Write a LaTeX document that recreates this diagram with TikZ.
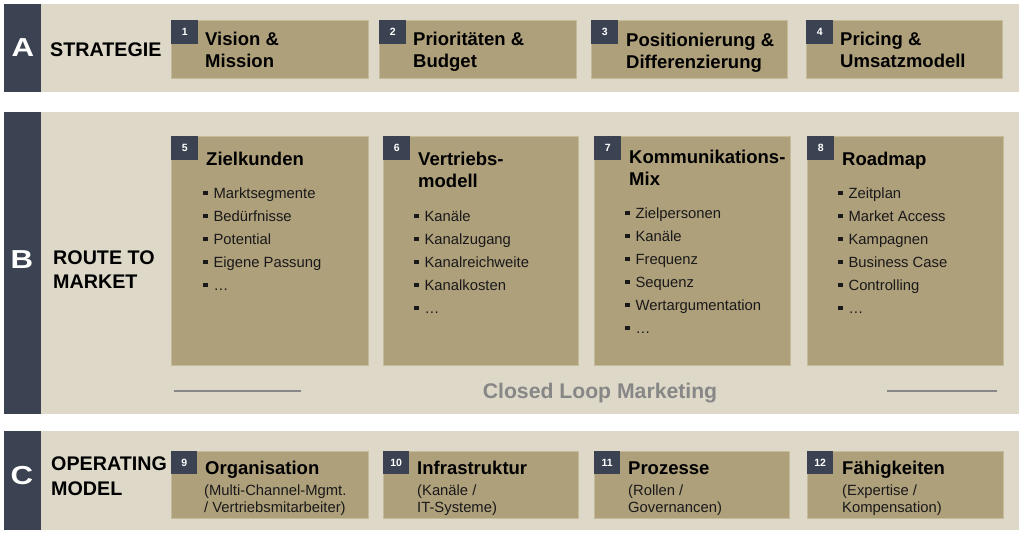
\documentclass[tikz,border=0pt]{standalone}
\usepackage{fontspec}
\usepackage{graphicx}
\setmainfont{Liberation Sans}
\definecolor{bandc}{HTML}{DDD8C7}
\definecolor{darkc}{HTML}{3B4251}
\definecolor{tanc}{HTML}{AFA07C}
\definecolor{tanline}{HTML}{C5BA9A}
\definecolor{loopc}{HTML}{878787}
\newcommand{\bul}[1]{\rule[0.2em]{0.3em}{0.3em}\hspace{0.4em}#1}
\begin{document}
\begin{tikzpicture}[x=1pt,y=-1pt,
  bandbg/.style={fill=bandc,draw=none},
  darkbar/.style={fill=darkc,draw=none},
  tanbox/.style={fill=tanc,draw=tanline,line width=0.8pt,inner sep=0pt,anchor=north west},
  numbox/.style={fill=darkc,draw=none,text=white,font=\bfseries\fontsize{10.5}{12}\selectfont,inner sep=0pt,minimum width=27,minimum height=24,anchor=north west},
  bigletter/.style={text=white,font=\bfseries\fontsize{26}{26}\selectfont,inner sep=0pt},
  rowlabel/.style={font=\bfseries\fontsize{19.7}{22}\selectfont,inner sep=0pt,anchor=base west},
  titletext/.style={font=\bfseries\fontsize{18.5}{22}\selectfont,inner sep=0pt,anchor=base west},
  itemtext/.style={font=\fontsize{14.8}{18}\selectfont,inner sep=0pt,anchor=base west,text=black!90},
  looptext/.style={font=\bfseries\fontsize{21.2}{24}\selectfont,text=loopc,inner sep=0pt,anchor=base},
  loopline/.style={draw=loopc,line width=1.6pt}
]
\useasboundingbox (0,0) rectangle (1024,536);
\fill[white] (0,0) rectangle (1024,536);
% bands
\fill[bandbg] (4,4) rectangle (1019,92);
\fill[darkbar] (4,4) rectangle (41,92);
\fill[bandbg] (4,112) rectangle (1019,414);
\fill[darkbar] (4,112) rectangle (41,414);
\fill[bandbg] (4,431) rectangle (1019,530);
\fill[darkbar] (4,431) rectangle (41,530);
% letters and labels
\node[bigletter] (LA) at (23,48) {\scalebox{1.2}[1]{A}};
\node[bigletter] (LB) at (22,260) {\scalebox{1.2}[1]{B}};
\node[bigletter] (LC) at (22,476) {\scalebox{1.2}[1]{C}};
\node[rowlabel] (rA) at (50,56) {STRATEGIE};
\node[rowlabel] (rB1) at (53,264) {ROUTE TO};
\node[rowlabel] (rB2) at (53,288) {MARKET};
\node[rowlabel] (rC1) at (51,470) {OPERATING};
\node[rowlabel] (rC2) at (51,495) {MODEL};
% ---------- row A
\node[tanbox,minimum width=197,minimum height=58] (a1) at (171,20) {};
\node[tanbox,minimum width=197,minimum height=58] (a2) at (379,20) {};
\node[tanbox,minimum width=196,minimum height=58] (a3) at (591,20) {};
\node[tanbox,minimum width=196,minimum height=58] (a4) at (806,20) {};
\node[numbox] (na1) at (a1.north west) {1};
\node[numbox] (na2) at (a2.north west) {2};
\node[numbox] (na3) at (a3.north west) {3};
\node[numbox] (na4) at (a4.north west) {4};
\node[titletext] (ta1a) at (205,45) {Vision \&};
\node[titletext] (ta1b) at (205,67) {Mission};
\node[titletext] (ta2a) at (413,45) {Prioritäten \&};
\node[titletext] (ta2b) at (413,67) {Budget};
\node[titletext] (ta3a) at (626,46) {Positionierung \&};
\node[titletext] (ta3b) at (626,68) {Differenzierung};
\node[titletext] (ta4a) at (840,45) {Pricing \&};
\node[titletext] (ta4b) at (840,67) {Umsatzmodell};
% ---------- row B
\node[tanbox,minimum width=197,minimum height=229] (b5) at (171,136) {};
\node[tanbox,minimum width=195,minimum height=229] (b6) at (383,136) {};
\node[tanbox,minimum width=196,minimum height=229] (b7) at (594,136) {};
\node[tanbox,minimum width=196,minimum height=229] (b8) at (807,136) {};
\node[numbox] (nb5) at (b5.north west) {5};
\node[numbox] (nb6) at (b6.north west) {6};
\node[numbox] (nb7) at (b7.north west) {7};
\node[numbox] (nb8) at (b8.north west) {8};
\node[titletext] (tb5) at (206,165) {Zielkunden};
\node[titletext] (tb6a) at (418,165) {Vertriebs-};
\node[titletext] (tb6b) at (418,187) {modell};
\node[titletext] (tb7a) at (629,163) {Kommunikations-};
\node[titletext] (tb7b) at (629,185) {Mix};
\node[titletext] (tb8) at (842,165) {Roadmap};
\foreach \t [count=\k] in {Marktsegmente,Bedürfnisse,Potential,Eigene Passung,…}
  \node[itemtext] (i5\k) at (203,{198+23*(\k-1)}) {\bul{\t}};
\foreach \t [count=\k] in {Kanäle,Kanalzugang,Kanalreichweite,Kanalkosten,…}
  \node[itemtext] (i6\k) at (414,{221+23*(\k-1)}) {\bul{\t}};
\foreach \t [count=\k] in {Zielpersonen,Kanäle,Frequenz,Sequenz,Wertargumentation,…}
  \node[itemtext] (i7\k) at (625,{218+23*(\k-1)}) {\bul{\t}};
\foreach \t [count=\k] in {Zeitplan,Market Access,Kampagnen,Business Case,Controlling,…}
  \node[itemtext] (i8\k) at (838,{198+23*(\k-1)}) {\bul{\t}};
% closed loop
\node[looptext] (loop) at (600,398) {Closed Loop Marketing};
\coordinate (l1a) at (174,391); \coordinate (l1b) at (301,391);
\coordinate (l2a) at (887,391); \coordinate (l2b) at (997,391);
\draw[loopline] (l1a) -- (l1b);
\draw[loopline] (l2a) -- (l2b);
% ---------- row C
\node[tanbox,minimum width=197,minimum height=67] (c9) at (171,451) {};
\node[tanbox,minimum width=195,minimum height=67] (c10) at (383,451) {};
\node[tanbox,minimum width=195,minimum height=67] (c11) at (594,451) {};
\node[tanbox,minimum width=196,minimum height=67] (c12) at (807,451) {};
\node[numbox,minimum width=26,minimum height=23] (nc9) at (c9.north west) {9};
\node[numbox,minimum width=26,minimum height=23] (nc10) at (c10.north west) {10};
\node[numbox,minimum width=26,minimum height=23] (nc11) at (c11.north west) {11};
\node[numbox,minimum width=26,minimum height=23] (nc12) at (c12.north west) {12};
\node[titletext] (tc9) at (205,474) {Organisation};
\node[itemtext] (sc9a) at (204,495) {(Multi-Channel-Mgmt.};
\node[itemtext] (sc9b) at (204,512) {/ Vertriebsmitarbeiter)};
\node[titletext] (tc10) at (417,474) {Infrastruktur};
\node[itemtext] (sc10a) at (417,495) {(Kanäle /};
\node[itemtext] (sc10b) at (417,512) {IT-Systeme)};
\node[titletext] (tc11) at (628,474) {Prozesse};
\node[itemtext] (sc11a) at (628,495) {(Rollen /};
\node[itemtext] (sc11b) at (628,512) {Governancen)};
\node[titletext] (tc12) at (842,474) {Fähigkeiten};
\node[itemtext] (sc12a) at (842,495) {(Expertise /};
\node[itemtext] (sc12b) at (842,512) {Kompensation)};
\end{tikzpicture}
\end{document}
